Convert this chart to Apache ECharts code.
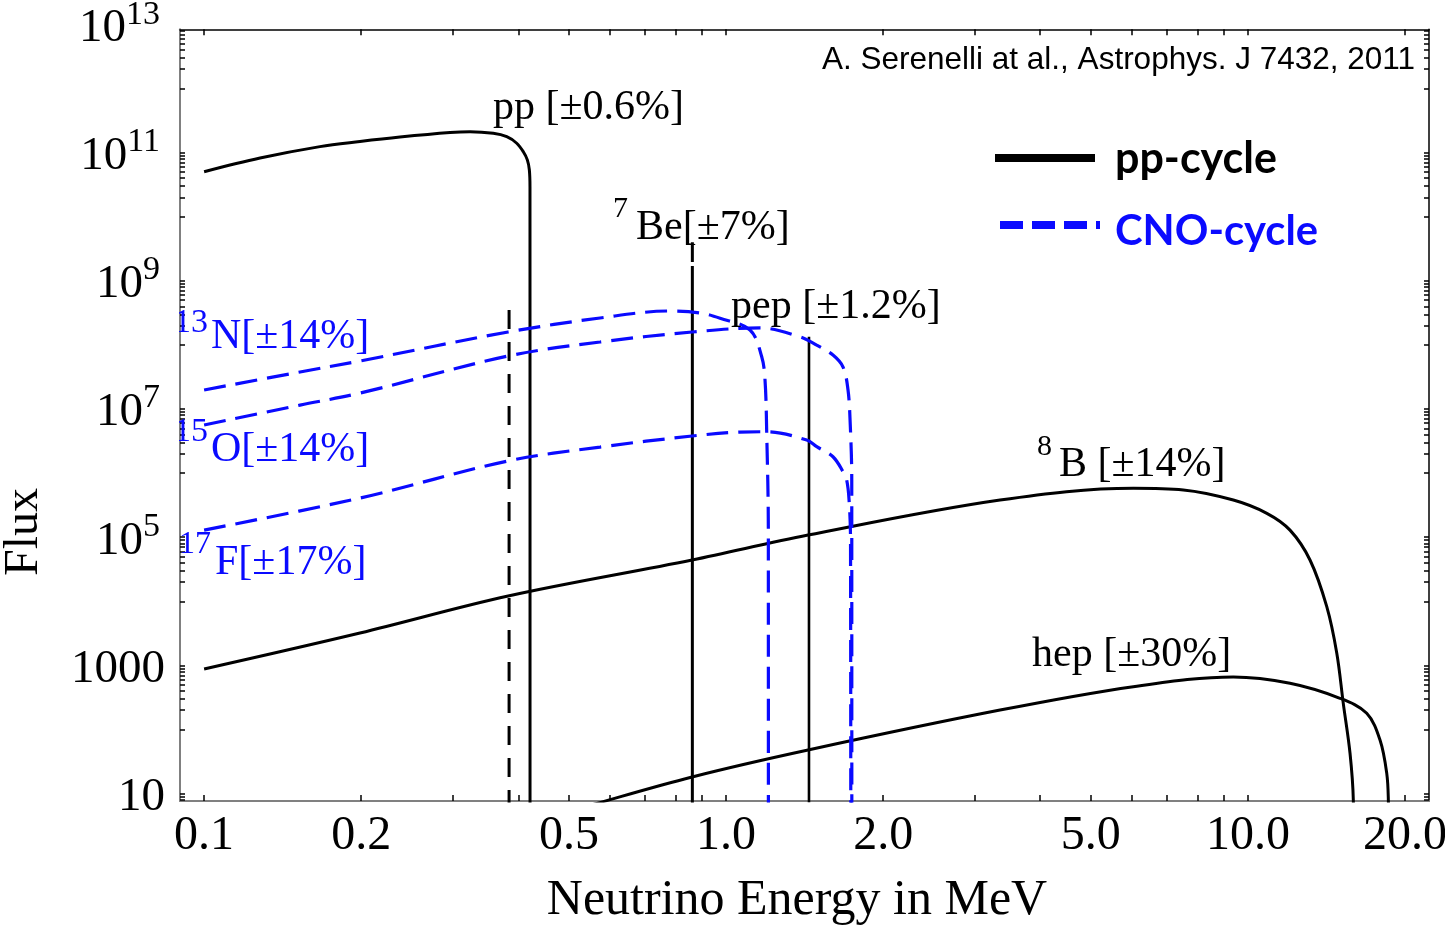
<!DOCTYPE html>
<html>
<head>
<meta charset="utf-8">
<script src="https://cdn.jsdelivr.net/npm/echarts@6/dist/echarts.min.js"></script>
<style>html,body{margin:0;padding:0;background:#fff}#c{width:1445px;height:928px}</style>
</head>
<body>
<div id="c"></div>
<script>
// ---------------- data (energy in MeV, flux) ----------------
const ppEnergy = [0.1, 0.128, 0.1667, 0.1989, 0.2373, 0.296, 0.3232, 0.3582, 0.3801, 0.3972, 0.4089, 0.4162, 0.4199, 0.4211, 0.4212];
const ppFlux   = [5.04e10, 8.24e10, 1.24e11, 1.49e11, 1.75e11, 2.06e11, 2.12e11, 2.0e11, 1.77e11, 1.40e11, 1.03e11, 7.7e10, 5.4e10, 2.9e10, 1];

const be7LineEnergy = [0.862, 0.384];
const be7LineFlux   = [4.0e9, 3.5e8];
const be7GapFlux    = [1.70e9, 1.96e9];   // small break near the top of the 0.862 MeV line
const pepEnergy = 1.442;
const pepFlux   = 1.34e8;

const b8Energy = [0.1, 0.1989, 0.3824, 0.861, 1.436, 3.35, 6.03, 7.52, 9.376, 10.87, 12.04, 13.15, 14.16, 14.80, 15.23, 15.69, 15.92, 15.95];
const b8Flux   = [879, 3.20e3, 1.21e4, 4.41e4, 1.08e5, 3.80e5, 5.79e5, 5.46e5, 3.80e5, 2.36e5, 1.29e5, 4.41e4, 8.24e3, 1.55e3, 256, 42.6, 7.9, 1];

const hepEnergy = [0.5, 0.561, 0.861, 1.436, 3.35, 6.03, 9.376, 12.04, 15.01, 16.89, 17.91, 18.45, 18.58, 18.62];
const hepFlux   = [5.2, 6.9, 18.2, 47.9, 201, 466, 661, 526, 307, 179, 68.5, 20.7, 7.9, 1];

const n13Energy = [0.1, 0.1527, 0.1989, 0.3824, 0.5736, 0.781, 0.8917, 0.974, 1.1117, 1.1706, 1.1878, 1.1967, 1.2053, 1.2055];
const n13Flux   = [1.98e7, 3.78e7, 5.61e7, 1.59e8, 2.63e8, 3.38e8, 3.15e8, 2.60e8, 1.71e8, 6.54e7, 2.83e7, 4.18e6, 1.29e5, 1];

const o15Energy = [0.1, 0.1527, 0.1989, 0.3824, 0.5736, 0.861, 1.1618, 1.3858, 1.4922, 1.603, 1.676, 1.713, 1.7285, 1.7415, 1.742];
const o15Flux   = [5.62e6, 1.15e7, 1.77e7, 6.71e7, 1.11e8, 1.59e8, 1.84e8, 1.34e8, 9.95e7, 6.95e7, 4.52e7, 1.98e7, 6.73e6, 7.8e5, 1];

const f17Energy = [0.1, 0.1989, 0.3824, 0.5736, 0.861, 1.0637, 1.1967, 1.428, 1.4922, 1.603, 1.676, 1.703, 1.721, 1.732, 1.734];
const f17Flux   = [1.29e5, 4.08e5, 1.55e6, 2.55e6, 3.79e6, 4.37e6, 4.42e6, 3.28e6, 2.58e6, 1.80e6, 1.05e6, 7.8e5, 3.8e5, 9.0e4, 1];

// ---------------- axes: ticks and labels ----------------
const xRange = [0.08991, 22.23];
const yRange = [7.667, 8.39e12];
const xTickLabels = [0.1, 0.2, 0.5, 1, 2, 5, 10, 20];
const xTickMarks  = [0.1, 0.2, 0.3, 0.4, 0.5, 0.6, 0.7, 0.8, 0.9, 1, 2, 3, 4, 5, 6, 7, 8, 9, 10, 20];
const yTickLabels = [1e1, 1e3, 1e5, 1e7, 1e9, 1e11, 1e13];
const yTickDecades = [0, 2, 4, 6, 8, 10, 12];   // minor ticks drawn in [10^d, 10^(d+1)]
const yTickMarks = [];
yTickDecades.forEach(d => { for (let j = 1; j <= 10; j++) yTickMarks.push(j * Math.pow(10, d)); });

const BLUE = '#0a0aff';
const SERIF = '"Liberation Serif", "Times New Roman", serif';
const pts = (E, F) => E.map((e, i) => [e, F[i]]);

const blackLine = { color: '#000', width: 3 };
function curve(name, data, style, extra) {
  return Object.assign({
    type: 'line', name: name, data: data, symbol: 'none', showSymbol: false,
    smooth: 0.35, clip: true, lineStyle: style, itemStyle: {color: style.color}, silent: true, z: 3
  }, extra || {});
}

const series = [
  curve('pp-cycle', pts(ppEnergy, ppFlux), blackLine),
  curve('pp-cycle', [[be7LineEnergy[0], 1], [be7LineEnergy[0], be7GapFlux[0]]], blackLine, {smooth: false}),
  curve('pp-cycle', [[be7LineEnergy[0], be7GapFlux[1]], [be7LineEnergy[0], be7LineFlux[0]]], blackLine, {smooth: false}),
  curve('pp-cycle', [[be7LineEnergy[1], be7LineFlux[1]], [be7LineEnergy[1], 1]], {color: '#000', width: 3, type: [19, 13]}, {smooth: false}),
  curve('pp-cycle', [[pepEnergy, 1], [pepEnergy, pepFlux]], {color: '#000', width: 2.6}, {smooth: false}),
  curve('pp-cycle', pts(b8Energy, b8Flux), blackLine),
  curve('pp-cycle', pts(hepEnergy, hepFlux), blackLine),
  curve('CNO-cycle', pts(n13Energy, n13Flux), {color: BLUE, width: 3.2, type: [22, 10]}),
  curve('CNO-cycle', pts(o15Energy, o15Flux), {color: BLUE, width: 3.2, type: [22, 10]}),
  curve('CNO-cycle', pts(f17Energy, f17Flux), {color: BLUE, width: 3.2, type: [22, 10]})
];

function xAxisDef(pos, withLabels) {
  return {
    type: 'log', logBase: 10, min: xRange[0], max: xRange[1], position: pos, gridIndex: 0,
    axisLine: {show: true, lineStyle: {color: pos === 'bottom' ? '#808080' : '#000', width: pos === 'bottom' ? 2 : 1.5}},
    axisTick: {show: true, inside: true, length: 6, customValues: xTickMarks, lineStyle: {color: '#000', width: 1.5}},
    minorTick: {show: false}, splitLine: {show: false}, minorSplitLine: {show: false},
    axisLabel: withLabels ? {
      show: true, customValues: xTickLabels, margin: 11,
      formatter: v => Number(v).toFixed(1),
      fontFamily: SERIF, fontSize: 48, lineHeight: 48, color: '#000'
    } : {show: false}
  };
}
function yAxisDef(pos, withLabels) {
  return {
    type: 'log', logBase: 10, min: yRange[0], max: yRange[1], position: pos, gridIndex: 0,
    axisLine: {show: true, lineStyle: {color: pos === 'left' ? '#808080' : '#000', width: pos === 'left' ? 2 : 1.5}},
    axisTick: {show: true, inside: true, length: 5, customValues: yTickMarks, lineStyle: {color: '#000', width: 1.5}},
    minorTick: {show: false}, splitLine: {show: false}, minorSplitLine: {show: false},
    axisLabel: withLabels ? {
      show: true, customValues: yTickLabels, margin: 15,
      formatter: v => {
        const e = Math.round(Math.log10(v));
        return e <= 3 ? '{b|' + Math.round(v) + '}' : '{b|10}{s|' + e + '}';
      },
      rich: {
        b: {fontFamily: SERIF, fontSize: 47, lineHeight: 55, verticalAlign: 'bottom', color: '#000'},
        s: {fontFamily: SERIF, fontSize: 34, lineHeight: 34, verticalAlign: 'top', color: '#000', padding: [0, 5, 0, 0]}
      }
    } : {show: false}
  };
}

function txt(id, text, x, y, size, color, align, extra) {
  return Object.assign({
    type: 'text', id: id, x: x, y: y, z: 6, silent: true,
    style: {
      text: text, fontFamily: SERIF, fontSize: size, fill: color || '#000',
      align: align || 'left', textAlign: align || 'left',
      verticalAlign: 'middle', textVerticalAlign: 'middle'
    }
  }, extra || {});
}

const graphics = [
  txt('pp', 'pp [±0.6%]', 493, 108, 42),
  txt('be7s', '7', 613, 209, 30),
  txt('be7', 'Be[±7%]', 636, 228, 42),
  txt('pep', 'pep [±1.2%]', 731, 307, 42),
  txt('b8s', '8', 1037, 447, 30),
  txt('b8', 'B [±14%]', 1059, 465, 42),
  txt('hep', 'hep [±30%]', 1032, 655, 42),
  txt('n13s', '13', 208, 323, 34, BLUE, 'right'),
  txt('n13', 'N[±14%]', 211, 337, 42, BLUE),
  txt('o15s', '15', 208, 432, 34, BLUE, 'right'),
  txt('o15', 'O[±14%]', 211, 450, 42, BLUE),
  txt('f17s', '17', 211, 545, 32, BLUE, 'right'),
  txt('f17', 'F[±17%]', 215, 563, 42, BLUE),
  {type: 'rect', id: 'mask', z: 7, silent: true, shape: {x: 166, y: 300, width: 13, height: 180}, style: {fill: '#fff'}},
  {type: 'text', id: 'cite', x: 1415, y: 60, z: 6, silent: true,
   style: {text: 'A. Serenelli at al., Astrophys. J 7432, 2011', fontFamily: '"Liberation Sans", Arial, sans-serif', fontSize: 31.5, fill: '#000', align: 'right', textAlign: 'right', verticalAlign: 'middle', textVerticalAlign: 'middle'}},
  txt('xname', 'Neutrino Energy in MeV', 797, 901, 50, '#000', 'center'),
  txt('yname', 'Flux', 24, 532, 48, '#000', 'center', {rotation: Math.PI / 2})
];

const LEGEND_FONT = 'Lato, "Open Sans", sans-serif';
function legendDef(name, left, top, color, dash, fontSize, padLeft, boxHeight) {
  return {
    show: true, left: left, top: top, padding: 0, orient: 'vertical',
    itemWidth: 100, itemHeight: 14, selectedMode: false,
    formatter: '{t|{name}}',
    textStyle: {
      rich: {t: {color: color, fontFamily: LEGEND_FONT, fontWeight: 'bold', fontSize: fontSize,
                 lineHeight: boxHeight, verticalAlign: 'bottom', padding: [0, 0, 0, padLeft]}}
    },
    data: [{
      name: name,
      lineStyle: {width: 8, color: color, type: dash},
      itemStyle: {color: 'transparent', opacity: 0, borderWidth: 0}
    }]
  };
}

const chart = echarts.init(document.getElementById('c'));
chart.setOption({
  animation: false,
  backgroundColor: '#fff',
  grid: {left: 180, right: 16, top: 29.3, bottom: 127, containLabel: false, outerBoundsMode: 'none'},
  xAxis: [xAxisDef('bottom', true), xAxisDef('top', false)],
  yAxis: [yAxisDef('left', true), yAxisDef('right', false)],
  legend: [
    legendDef('pp-cycle', 991, 138, '#000', 'solid', 43, 15, 46),
    legendDef('CNO-cycle', 996, 211, BLUE, [23, 9], 41.7, 10, 56)
  ],
  graphic: {elements: graphics},
  series: series
});

// the 10^13 label sits just above the plotted range: place it through the axis scale
const yTop = chart.convertToPixel({yAxisIndex: 0}, yTickLabels[yTickLabels.length - 1]);
chart.setOption({graphic: {elements: [
  txt('y13b', '10', 126, yTop + 4.5, 47, '#000', 'right'),
  txt('y13s', '13', 126, yTop + 4.5 - 14, 34, '#000', 'left')
]}});
</script>
</body>
</html>
